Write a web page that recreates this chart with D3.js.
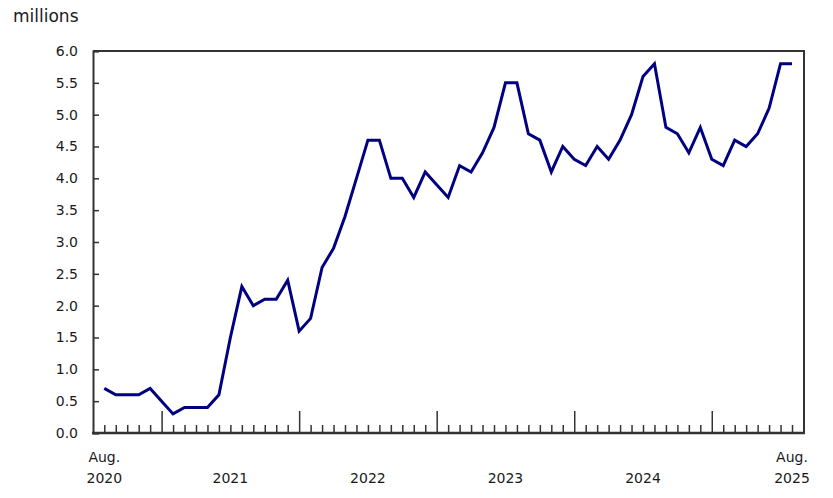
<!DOCTYPE html>
<html>
<head>
<meta charset="utf-8">
<script src="https://cdn.jsdelivr.net/npm/d3@7"></script>
<style>
  html, body { margin: 0; padding: 0; background: #fff; }
  svg { display: block; }
  text { font-family: "DejaVu Sans", Verdana, sans-serif; fill: #1a1a1a; }
</style>
</head>
<body>
<svg id="chart" width="833" height="498"></svg>
<script>
// ---- data ----
const unitLabel = "millions";
const startMonth = "2020-08";
const endMonth = "2025-08";
const values = [
  0.7, 0.6, 0.6, 0.6, 0.7,                                   // 2020 Aug-Dec
  0.5, 0.3, 0.4, 0.4, 0.4, 0.6, 1.5, 2.3, 2.0, 2.1, 2.1, 2.4, // 2021
  1.6, 1.8, 2.6, 2.9, 3.4, 4.0, 4.6, 4.6, 4.0, 4.0, 3.7, 4.1, // 2022
  3.9, 3.7, 4.2, 4.1, 4.4, 4.8, 5.5, 5.5, 4.7, 4.6, 4.1, 4.5, // 2023
  4.3, 4.2, 4.5, 4.3, 4.6, 5.0, 5.6, 5.8, 4.8, 4.7, 4.4, 4.8, // 2024
  4.3, 4.2, 4.6, 4.5, 4.7, 5.1, 5.8, 5.8                      // 2025 Jan-Aug
];
const yTicks = [0, 0.5, 1, 1.5, 2, 2.5, 3, 3.5, 4, 4.5, 5, 5.5, 6];
const yearLabels = ["2021", "2022", "2023", "2024"];
const endLabels = [
  { month: "2020-08", top: "Aug.", bottom: "2020" },
  { month: "2025-08", top: "Aug.", bottom: "2025" }
];

// ---- build ----
const parse = d3.utcParse("%Y-%m");
const fmt = d3.utcFormat("%Y-%m");
const months = d3.utcMonth.range(parse(startMonth), d3.utcMonth.offset(parse(endMonth), 1)).map(fmt);
const data = months.map((m, i) => ({ month: m, value: values[i] }));

const svg = d3.select("#chart");
const frame = { left: 93, right: 804, top: 51, bottom: 433 };

const x = d3.scalePoint().domain(months).range([104.3, 792]).padding(0);
const y = d3.scaleLinear().domain([0, 6]).range([frame.bottom, frame.top]);
const step = x.step();

// frame (top & right)
svg.append("path")
  .attr("d", `M${frame.left},${frame.top}H${frame.right}V${frame.bottom}`)
  .attr("fill", "none").attr("stroke", "#333").attr("stroke-width", 2);

// y axis
const yAxis = d3.axisLeft(y).tickValues(yTicks).tickSize(-6).tickPadding(15)
  .tickFormat(d3.format(".1f"));
const gy = svg.append("g").attr("transform", `translate(${frame.left},0)`).call(yAxis);
gy.select(".domain").attr("stroke", "#333").attr("stroke-width", 2);
gy.selectAll(".tick line").attr("stroke", "#333").attr("stroke-width", 1.5);
gy.selectAll(".tick text").style("font-size", "14px").attr("fill", "#1a1a1a")
  .style("font-family", "'DejaVu Sans', Verdana, sans-serif");

// x axis: minor ticks each month, major at January
const xAxis = d3.axisBottom(x).tickSize(0).tickFormat("");
const gx = svg.append("g").attr("transform", `translate(0,${frame.bottom})`).call(xAxis);
gx.select(".domain").remove();
gx.selectAll(".tick line")
  .attr("y2", d => d.endsWith("-01") ? -22 : -8)
  .attr("stroke", "#333").attr("stroke-width", 1.5);
svg.append("line")
  .attr("x1", frame.left - 1).attr("x2", frame.right + 1)
  .attr("y1", frame.bottom).attr("y2", frame.bottom)
  .attr("stroke", "#333").attr("stroke-width", 2.5);

// year labels centered between January boundaries
yearLabels.forEach(yr => {
  const a = x(yr + "-01");
  const cx = a + 6 * step;
  svg.append("text").attr("x", cx).attr("y", 482.5)
    .attr("text-anchor", "middle").style("font-size", "14px").text(yr);
});
endLabels.forEach(l => {
  svg.append("text").attr("x", x(l.month)).attr("y", 461.5)
    .attr("text-anchor", "middle").style("font-size", "14px").text(l.top);
  svg.append("text").attr("x", x(l.month)).attr("y", 482.5)
    .attr("text-anchor", "middle").style("font-size", "14px").text(l.bottom);
});

// unit label
svg.append("text").attr("x", 13).attr("y", 22).style("font-size", "17px").text(unitLabel);

// line
const line = d3.line().x(d => x(d.month)).y(d => y(d.value));
svg.append("path").datum(data)
  .attr("d", line)
  .attr("fill", "none")
  .attr("stroke", "#000080")
  .attr("stroke-width", 3)
  .attr("stroke-linejoin", "miter");
</script>
</body>
</html>
